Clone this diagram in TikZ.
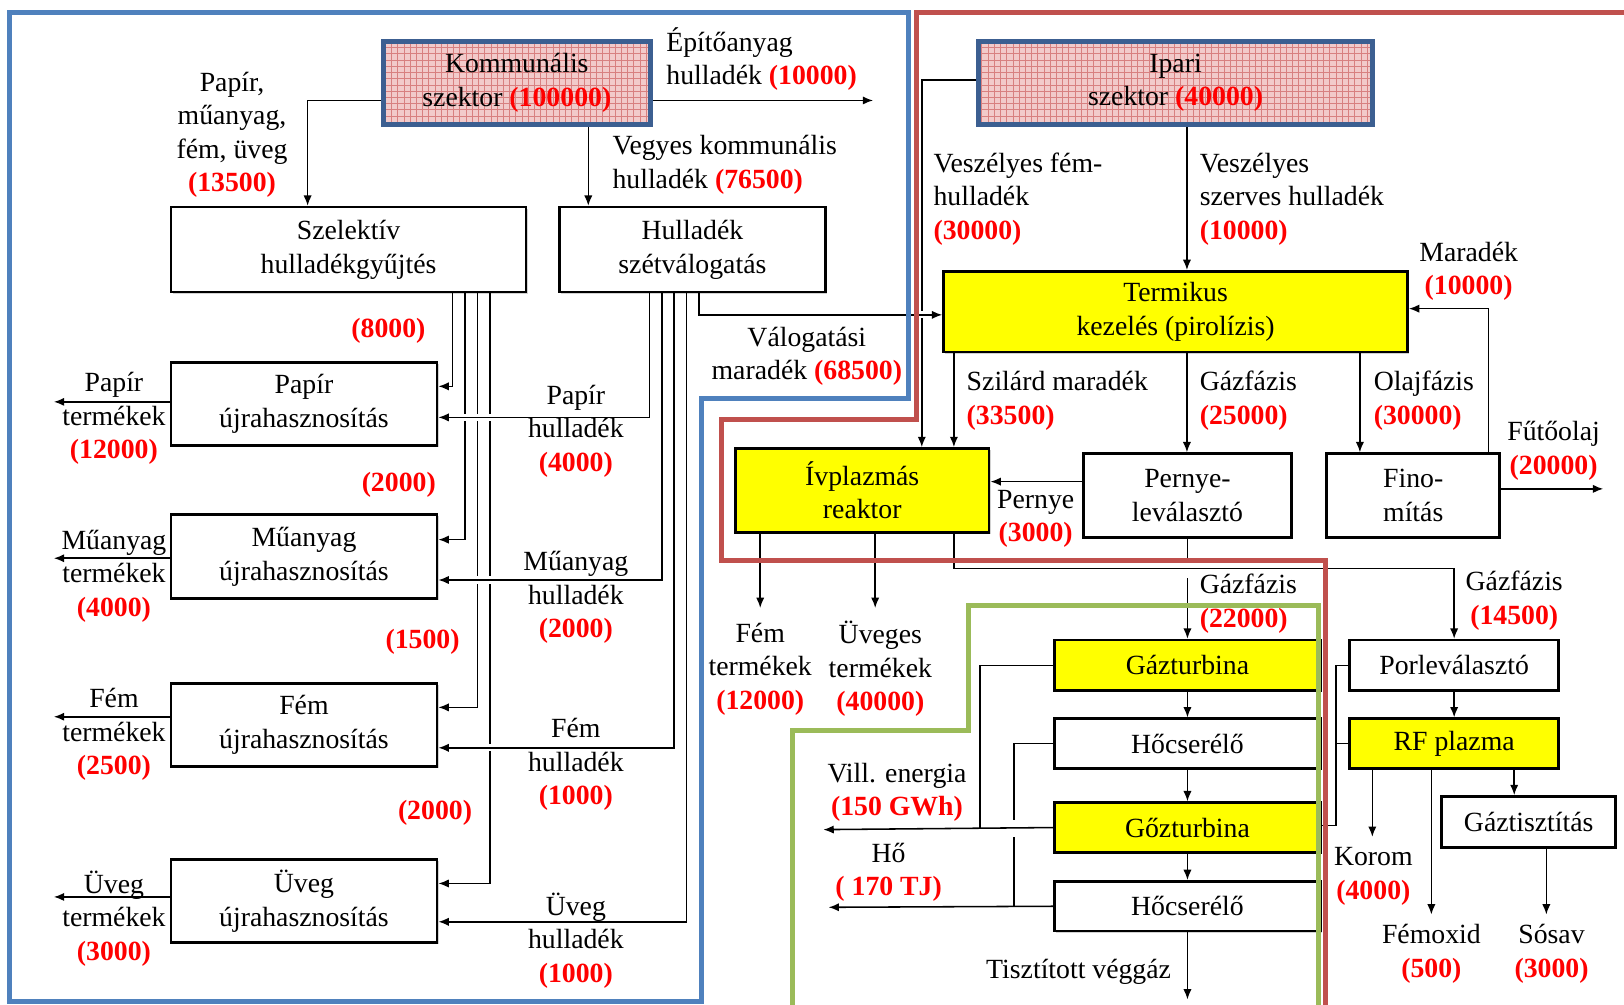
\documentclass[tikz,border=0pt]{standalone}
\usepackage{fontspec}
\setmainfont{Liberation Serif}
\usetikzlibrary{arrows.meta,shadows,patterns}
\definecolor{fblue}{HTML}{4F81BD}
\definecolor{fred}{HTML}{C0504D}
\definecolor{fgreen}{HTML}{9BBB59}
\definecolor{sectb}{HTML}{3C5F91}
\definecolor{pinkbg}{HTML}{F2CACA}
\definecolor{pinkln}{HTML}{D88080}
\definecolor{yel}{HTML}{FFFF00}
\newcommand{\redn}[1]{\textcolor{red}{\textbf{#1}}}
\begin{document}
\begin{tikzpicture}[x=0.5pt,y=-0.5pt,
  every node/.style={font=\fontsize{13.4}{16.2}\selectfont},
  box/.style={draw, line width=1.3pt, fill=white, inner sep=0pt, align=center,
    drop shadow={shadow xshift=0.8pt, shadow yshift=-0.8pt, fill=black!35}},
  ybox/.style={box, fill=yel},
  sector/.style={draw=sectb, line width=2.5pt, inner sep=0pt, align=center,
    drop shadow={shadow xshift=1pt, shadow yshift=-1pt, fill=black!45},
    preaction={fill=pinkbg}, pattern=grid, pattern color=pinkln},
  lab/.style={inner sep=0pt, align=center},
  labl/.style={inner sep=0pt, align=left, anchor=west},
  ln/.style={line width=0.75pt},
  arr/.style={line width=0.75pt, -{Latex[length=5pt,width=4pt]}},
  gap/.style={white, line width=3.5pt},
  frame/.style={line width=2.5pt}]
\useasboundingbox (0,0) rectangle (1568,970);

% ---------- boxes ----------
\node[sector, minimum width=129pt, minimum height=40pt] (kom) at (499,80) {Kommunális\\szektor \redn{(100000)}};
\node[sector, minimum width=190pt, minimum height=40pt] (ipa) at (1135,80) {Ipari\\szektor \redn{(40000)}};
\node[box, minimum width=171.5pt, minimum height=41pt] (szel) at (336.5,241) {Szelektív\\hulladékgyűjtés};
\node[box, minimum width=128.5pt, minimum height=41pt] (hsz) at (668.5,241) {Hulladék\\szétválogatás};
\node[box, minimum width=128.5pt, minimum height=40pt] (pap) at (293.5,390) {Papír\\újrahasznosítás};
\node[box, minimum width=128.5pt, minimum height=40.5pt] (mua) at (293.5,537.5) {Műanyag\\újrahasznosítás};
\node[box, minimum width=128.5pt, minimum height=40pt] (fem) at (293.5,700) {Fém\\újrahasznosítás};
\node[box, minimum width=128.5pt, minimum height=40pt] (uve) at (293.5,870) {Üveg\\újrahasznosítás};
\node[ybox, minimum width=224pt, minimum height=39pt] (ter) at (1135,301) {Termikus\\kezelés (pirolízis)};
\node[ybox, minimum width=122.5pt, minimum height=40.5pt] (ivp) at (832.5,473.5) {Ívplazmás\\reaktor};
\node[box, minimum width=100.5pt, minimum height=40.5pt] (per) at (1146.5,478.5) {Pernye-\\leválasztó};
\node[box, minimum width=83.5pt, minimum height=40.5pt] (fin) at (1364.5,478.5) {Fino-\\mítás};
\node[ybox, minimum width=128.5pt, minimum height=24.5pt] (gtu) at (1146.5,642.5) {Gázturbina};
\node[box, minimum width=128.5pt, minimum height=24pt] (hc1) at (1146.5,718) {Hőcserélő};
\node[ybox, minimum width=128.5pt, minimum height=24pt] (gou) at (1146.5,799) {Gőzturbina};
\node[box, minimum width=128.5pt, minimum height=24pt] (hc2) at (1146.5,875) {Hőcserélő};
\node[box, minimum width=101pt, minimum height=24.5pt] (por) at (1404,642.5) {Porleválasztó};
\node[ybox, minimum width=101pt, minimum height=24pt] (rfp) at (1404,718) {RF plazma};
\node[box, minimum width=84pt, minimum height=24.5pt] (gaz) at (1476,793.5) {Gáztisztítás};

% ---------- free ends ----------
\coordinate (epEnd) at (843,97);
\coordinate (papEnd) at (52,388);
\coordinate (muaEnd) at (52,539);
\coordinate (femEnd) at (52,692);
\coordinate (uveEnd) at (52,866);
\coordinate (ftEnd) at (734,587);
\coordinate (utEnd) at (845,587);
\coordinate (fuEnd) at (1548,472);
\coordinate (viEnd) at (795,801);
\coordinate (hoEnd) at (800,876);
\coordinate (vgEnd) at (1146.5,965);
\coordinate (koEnd) at (1325,808);
\coordinate (fxEnd) at (1382,883);
\coordinate (ssEnd) at (1493,883);

% ---------- connectors: left part ----------
\draw[arr] (kom.west |- 0,97) -| (szel.north -| 297,0);
\draw[arr] (kom.south -| 568,0) -- (hsz.north -| 568,0);
\draw[arr] (kom.east |- 0,97) -- (epEnd);

\draw[arr] (szel.south -| 437,0) |- (pap.east |- 0,373);
\draw[arr] (szel.south -| 449,0) |- (mua.east |- 0,521);
\draw[arr] (szel.south -| 461,0) |- (fem.east |- 0,683);
\draw[arr] (szel.south -| 473,0) |- (uve.east |- 0,853);

\draw[gap] (443,403) -- (479,403);
\draw[gap] (455,560) -- (479,560);
\draw[gap] (467,722) -- (479,722);

\draw[arr] (hsz.south -| 627,0) |- (pap.east |- 0,403);
\draw[arr] (hsz.south -| 639,0) |- (mua.east |- 0,560);
\draw[arr] (hsz.south -| 651,0) |- (fem.east |- 0,722);
\draw[arr] (hsz.south -| 663,0) |- (uve.east |- 0,890);

\draw[arr] (pap.west |- 0,388) -- (papEnd);
\draw[arr] (mua.west |- 0,539) -- (muaEnd);
\draw[arr] (fem.west |- 0,692) -- (femEnd);
\draw[arr] (uve.west |- 0,866) -- (uveEnd);

% ---------- connectors: right part ----------
\draw[arr] (ipa.west |- 0,77) -| (ivp.north -| 890,0);
\draw[gap] (884,304) -- (898,304);
\draw[arr] (hsz.south -| 675,0) |- (ter.west |- 0,304);
\draw[arr] (ipa.south -| 1146,0) -- (ter.north -| 1146,0);
\draw[arr] (ter.south -| 921,0) -- (ivp.north -| 921,0);
\draw[arr] (ter.south -| 1146,0) -- (per.north -| 1146,0);
\draw[arr] (ter.south -| 1313,0) -- (fin.north -| 1313,0);
\draw[arr] (fin.north -| 1437,0) |- (ter.east |- 0,298);
\draw[arr] (fin.east |- 0,472) -- (fuEnd);
\draw[arr] (per.west |- 0,465) -- (ivp.east |- 0,465);
\draw[arr] (per.south) -- (gtu.north);
\draw[gap] (1146.5,540) -- (1146.5,558);
\draw[arr] (ivp.south -| 921,0) -- (921,549) -| (por.north);
\draw[arr] (ivp.south -| 734,0) -- (ftEnd);
\draw[arr] (ivp.south -| 845,0) -- (utEnd);

\draw[arr] (gtu.south) -- (hc1.north);
\draw[arr] (hc1.south) -- (gou.north);
\draw[arr] (gou.south) -- (hc2.north);
\draw[arr] (hc2.south) -- (vgEnd);

\draw[ln] (gtu.west) -| (946,799);
\draw[ln] (hc1.west) -| (979,875);
\draw[gap] (979,792) -- (979,808);
\draw[arr] (gou.west) -- (viEnd);
\draw[arr] (hc2.west) -- (hoEnd);

\draw[arr] (por.south) -- (rfp.north);
\draw[ln] (por.west) -| (1290,797) -- (gou.east |- 0,797);
\draw[ln] (rfp.west) -- (1290,718);
\draw[arr] (rfp.south -| 1325,0) -- (koEnd);
\draw[arr] (rfp.south -| 1382,0) -- (fxEnd);
\draw[arr] (rfp.south -| 1462,0) -- (gaz.north -| 1462,0);
\draw[arr] (gaz.south -| 1493,0) -- (ssEnd);

% ---------- labels ----------
\node[lab] (l13500) at (224,130) {Papír,\\műanyag,\\fém, üveg\\\redn{(13500)}};
\node[labl] (lepit) at (643,57) {Építőanyag\\hulladék \redn{(10000)}};
\node[labl] (lvegy) at (591,159) {Vegyes kommunális\\hulladék \redn{(76500)}};
\node[lab] (lvalo) at (779,344) {Válogatási\\maradék \redn{(68500)}};
\node[lab] (l8000) at (375,319) {\redn{(8000)}};
\node[lab] (l2000a) at (385,468) {\redn{(2000)}};
\node[lab] (l1500) at (408,620) {\redn{(1500)}};
\node[lab] (l2000b) at (420,785) {\redn{(2000)}};
\node[lab] (lph) at (556,416) {Papír\\hulladék\\\redn{(4000)}};
\node[lab] (lmh) at (556,577) {Műanyag\\hulladék\\\redn{(2000)}};
\node[lab] (lfh) at (556,738) {Fém\\hulladék\\\redn{(1000)}};
\node[lab] (luh) at (556,908) {Üveg\\hulladék\\\redn{(1000)}};
\node[lab] (lpt) at (110,404) {Papír\\termékek\\\redn{(12000)}};
\node[lab] (lmt) at (110,556) {Műanyag\\termékek\\\redn{(4000)}};
\node[lab] (lft) at (110,709) {Fém\\termékek\\\redn{(2500)}};
\node[lab] (lut) at (110,887) {Üveg\\termékek\\\redn{(3000)}};

\node[labl] (lvf) at (901,192) {Veszélyes fém-\\hulladék\\\redn{(30000)}};
\node[labl] (lvs) at (1158,192) {Veszélyes\\szerves hulladék\\\redn{(10000)}};
\node[lab] (lmar) at (1418,262) {Maradék\\\redn{(10000)}};
\node[labl] (lszi) at (933,387) {Szilárd maradék\\\redn{(33500)}};
\node[labl] (lg25) at (1158,387) {Gázfázis\\\redn{(25000)}};
\node[labl] (lola) at (1326,387) {Olajfázis\\\redn{(30000)}};
\node[lab] (lfut) at (1500,435) {Fűtőolaj\\\redn{(20000)}};
\node[lab] (lper) at (1000,501) {Pernye\\\redn{(3000)}};
\node[labl] (lg22) at (1158,583) {Gázfázis\\\redn{(22000)}};
\node[lab] (lg145) at (1462,580) {Gázfázis\\\redn{(14500)}};
\node[lab] (lfemt) at (734,646) {Fém\\termékek\\\redn{(12000)}};
\node[lab] (luvt) at (850,646) {Üveges\\termékek\\\redn{(40000)}};
\node[lab] (lvill) at (866,765) {Vill. energia\\\redn{(150 GWh)}};
\node[lab] (lho) at (858,842) {Hő\\\redn{( 170 TJ)}};
\node[lab, anchor=east] (ltisz) at (1131,938) {Tisztított véggáz};
\node[lab] (lkor) at (1326,846) {Korom\\\redn{(4000)}};
\node[lab] (lfox) at (1382,921) {Fémoxid\\\redn{(500)}};
\node[lab] (lsos) at (1498,921) {Sósav\\\redn{(3000)}};

% ---------- frames ----------
\draw[fblue, frame] (9,967) -- (9,12) -- (877,12) -- (877,385) -- (677,385) -- (677,967) -- cycle;
\draw[fred, frame] (1570,12) -- (885,12) -- (885,405) -- (697,405) -- (697,541) -- (1280,541) -- (1280,972);
\draw[fgreen, frame] (765,972) -- (765,705) -- (935,705) -- (935,585) -- (1273,585) -- (1273,972);
\end{tikzpicture}
\end{document}
